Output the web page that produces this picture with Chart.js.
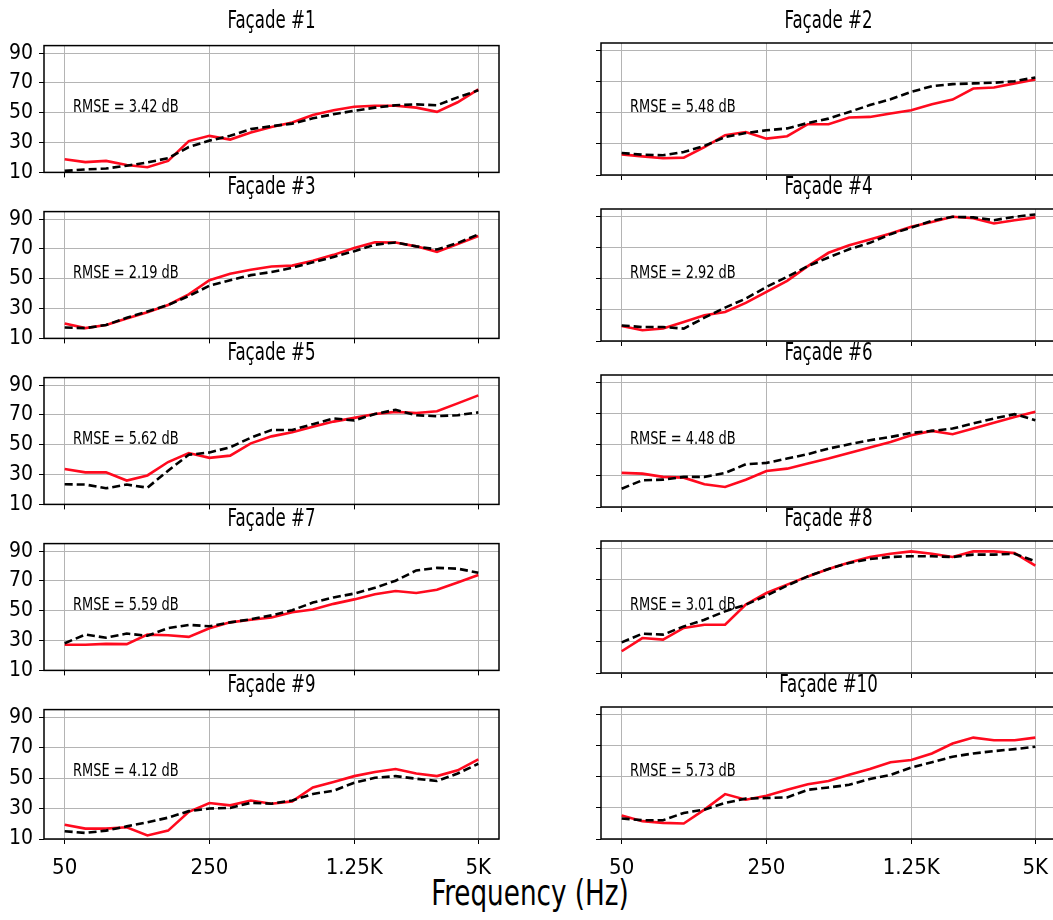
<!DOCTYPE html>
<html>
<head>
<meta charset="utf-8">
<script src="https://cdn.jsdelivr.net/npm/chart.js@4.4.0/dist/chart.umd.min.js"></script>
<style>
  body {
    margin: 0;
    background: #fff;
    width: 1053px;
    height: 920px;
    overflow: hidden;
    position: relative;
    font-family: 'DejaVu Sans Condensed', 'DejaVu Sans', sans-serif;
    color: #000;
  }
  canvas { position: absolute; }
  .ptitle { position: absolute; width: 455px; text-align: center; font-size: 24px; line-height: 28px; transform: scaleX(0.77); transform-origin: center; }
  .rmse { position: absolute; font-size: 18px; line-height: 20px; transform: scaleX(0.8); transform-origin: left center; white-space: nowrap; }
  #xlabel { position: absolute; left: 0; top: 872px; width: 1060px; text-align: center; font-size: 36px; line-height: 42px; transform: scaleX(0.81); transform-origin: center; }
</style>
</head>
<body>
<div id="xlabel">Frequency (Hz)</div>

<script>
// third-octave bands, 50 Hz .. 5 kHz
const freqLabels = ['50', '63', '80', '100', '125', '160', '200', '250', '315', '400', '500',
  '630', '800', '1K', '1.25K', '1.6K', '2K', '2.5K', '3.15K', '4K', '5K'];
const shownFreqs = [0, 7, 14, 20];
const yTicks = [10, 30, 50, 70, 90];

const titles = ['Façade #1', 'Façade #2', 'Façade #3', 'Façade #4', 'Façade #5',
  'Façade #6', 'Façade #7', 'Façade #8', 'Façade #9', 'Façade #10'];
const rmse = ['3.42', '5.48', '2.19', '2.92', '5.62', '4.48', '5.59', '3.01', '4.12', '5.73'];

// red solid curves
const measured1 = [18.8, 16.9, 17.7, 15.0, 13.5, 17.7, 31.0, 34.5, 32.0, 36.7, 40.5, 43.5, 48.5, 51.7, 54.0, 54.7, 54.7, 53.4, 50.6, 57.0, 65.7];
const measured2 = [23.3, 22.0, 20.8, 21.2, 28.0, 35.6, 37.7, 33.4, 35.0, 42.7, 42.7, 47.0, 47.4, 49.6, 51.7, 55.6, 58.6, 65.7, 66.3, 69.0, 71.5];
const measured3 = [20.0, 16.9, 19.0, 23.3, 27.6, 32.4, 39.5, 49.0, 53.4, 56.0, 58.2, 58.8, 62.0, 66.0, 70.6, 74.5, 74.3, 71.7, 68.0, 73.2, 78.6];
const measured4 = [19.7, 16.9, 18.0, 22.3, 26.6, 28.7, 34.5, 41.6, 48.7, 58.2, 66.8, 71.7, 75.4, 79.2, 83.5, 86.7, 90.0, 89.0, 85.7, 87.8, 89.6];
const measured5 = [33.7, 31.5, 31.5, 26.0, 29.4, 38.4, 44.4, 41.2, 42.7, 50.9, 55.6, 58.4, 62.0, 65.5, 68.0, 70.6, 72.0, 71.3, 72.4, 77.7, 83.1];
const measured6 = [32.0, 31.5, 29.4, 28.9, 24.6, 22.9, 27.6, 33.2, 34.7, 38.0, 41.2, 44.8, 48.3, 51.9, 56.2, 59.0, 56.9, 60.5, 64.2, 68.0, 71.3];
const measured7 = [27.2, 27.2, 27.8, 27.6, 34.0, 33.6, 32.5, 38.3, 42.2, 43.9, 45.4, 49.0, 50.8, 54.6, 57.6, 61.0, 63.2, 61.9, 64.0, 68.9, 73.9];
const measured8 = [24.0, 32.5, 31.5, 39.0, 41.1, 41.1, 54.0, 61.5, 66.9, 72.2, 77.0, 81.2, 84.7, 86.8, 88.3, 86.8, 84.7, 88.3, 88.3, 87.2, 79.1];
const measured9 = [19.4, 16.8, 16.8, 17.7, 12.3, 15.5, 27.9, 33.6, 32.1, 35.3, 33.2, 34.7, 43.8, 47.4, 51.3, 54.0, 56.0, 53.0, 51.3, 55.1, 62.3];
const measured10 = [25.1, 21.5, 20.4, 20.0, 28.9, 38.9, 35.3, 37.8, 41.7, 45.3, 47.4, 51.3, 55.1, 59.4, 60.9, 65.1, 71.5, 75.3, 73.6, 73.6, 75.3];

// black dashed curves
const predicted1 = [11.0, 12.0, 12.6, 14.5, 16.7, 19.5, 27.0, 31.3, 34.5, 39.0, 41.0, 42.7, 46.3, 49.0, 51.3, 53.4, 55.0, 55.6, 55.0, 60.3, 65.0];
const predicted2 = [24.2, 23.1, 22.7, 24.8, 28.7, 34.5, 37.0, 38.8, 40.0, 43.5, 46.3, 50.6, 55.0, 58.8, 63.5, 67.2, 68.5, 69.0, 69.4, 70.4, 72.8];
const predicted3 = [17.3, 16.9, 19.0, 23.8, 28.0, 32.4, 38.4, 45.3, 49.0, 52.4, 54.5, 57.3, 61.0, 64.6, 68.5, 72.8, 74.3, 71.7, 69.6, 73.9, 79.7];
const predicted4 = [20.0, 19.0, 19.0, 18.0, 25.0, 31.5, 37.3, 44.8, 51.3, 58.2, 63.8, 69.1, 73.2, 78.8, 83.0, 87.4, 90.0, 89.6, 87.8, 90.0, 91.5];
const predicted5 = [23.5, 23.3, 20.8, 23.3, 21.2, 32.6, 43.3, 44.8, 48.3, 54.7, 59.9, 59.9, 63.8, 67.6, 66.3, 70.6, 73.4, 69.8, 69.1, 69.8, 71.7];
const predicted6 = [21.8, 27.2, 27.6, 29.4, 29.4, 31.9, 37.5, 38.4, 41.2, 44.0, 47.6, 50.4, 53.0, 55.1, 57.7, 59.0, 60.5, 63.8, 67.0, 69.8, 65.9];
const predicted7 = [28.2, 34.0, 31.9, 34.7, 33.2, 38.3, 40.5, 39.6, 42.2, 44.3, 46.9, 50.3, 55.5, 58.9, 61.5, 65.4, 70.1, 77.0, 78.7, 78.2, 75.5];
const predicted8 = [29.7, 35.3, 34.7, 40.0, 44.3, 49.7, 54.0, 59.8, 66.3, 72.2, 77.0, 80.9, 83.4, 84.7, 85.2, 85.2, 84.7, 86.2, 86.2, 86.8, 81.9];
const predicted9 = [15.1, 14.0, 15.5, 18.3, 21.0, 24.0, 28.3, 30.0, 30.4, 33.8, 33.2, 35.3, 39.6, 41.7, 47.0, 50.2, 51.3, 49.6, 48.1, 53.0, 59.4];
const predicted10 = [23.2, 22.1, 22.1, 26.8, 28.9, 33.2, 36.0, 36.4, 36.8, 41.7, 43.2, 44.9, 48.7, 51.3, 56.0, 59.4, 63.0, 65.1, 66.6, 67.9, 69.4];

const measured = [measured1, measured2, measured3, measured4, measured5,
  measured6, measured7, measured8, measured9, measured10];
const predicted = [predicted1, predicted2, predicted3, predicted4, predicted5,
  predicted6, predicted7, predicted8, predicted9, predicted10];

const fontStack = "'DejaVu Sans Condensed', 'DejaVu Sans', sans-serif";
Chart.defaults.font.family = fontStack;
Chart.defaults.color = '#000';

// layout of the 5x2 grid (plot frame positions)
const rowTops = [43, 209, 375, 541, 707];
const colLefts = [44, 601];
const plotW = 455;
const plotH = 132;
const yAxisW = 44;
const padTop = 16;
const padRight = 21;

// draws the full box around the plot area
const framePlugin = {
  id: 'frame',
  afterDraw(chart) {
    const a = chart.chartArea;
    const ctx = chart.ctx;
    ctx.save();
    ctx.strokeStyle = '#000';
    ctx.lineWidth = 1.5;
    ctx.strokeRect(a.left, a.top, a.right - a.left, a.bottom - a.top);
    ctx.restore();
  }
};

function toPoints(values) {
  return values.map((v, i) => ({ x: i, y: v }));
}

function makePanel(k) {
  const row = Math.floor(k / 2);
  const col = k % 2;
  const bottomRow = row === 4;
  const xAxisH = bottomRow ? 50 : 16;

  const canvas = document.createElement('canvas');
  canvas.width = yAxisW + plotW + padRight;
  canvas.height = padTop + plotH + xAxisH;
  canvas.style.left = (colLefts[col] - yAxisW) + 'px';
  canvas.style.top = (rowTops[row] - padTop) + 'px';
  document.body.appendChild(canvas);

  const title = document.createElement('div');
  title.className = 'ptitle';
  title.textContent = titles[k];
  title.style.left = colLefts[col] + 'px';
  title.style.top = (rowTops[row] - 37) + 'px';
  document.body.appendChild(title);

  const note = document.createElement('div');
  note.className = 'rmse';
  note.textContent = `RMSE = ${rmse[k]} dB`;
  note.style.left = (colLefts[col] + 29) + 'px';
  note.style.top = (rowTops[row] + 53) + 'px';
  document.body.appendChild(note);

  new Chart(canvas.getContext('2d'), {
    type: 'line',
    data: {
      datasets: [{
        label: 'measured',
        data: toPoints(measured[k]),
        borderColor: '#ff0a1e',
        borderWidth: 2.6,
        pointRadius: 0,
        tension: 0,
        order: 1
      }, {
        label: 'predicted',
        data: toPoints(predicted[k]),
        borderColor: '#000',
        borderWidth: 2.6,
        borderDash: [8, 4],
        pointRadius: 0,
        tension: 0,
        order: 0
      }]
    },
    options: {
      responsive: false,
      animation: false,
      events: [],
      layout: { padding: { top: padTop, right: padRight, left: 0, bottom: 0 } },
      plugins: { legend: { display: false }, tooltip: { enabled: false } },
      scales: {
        x: {
          type: 'linear',
          min: -1,
          max: 21,
          afterBuildTicks: scale => { scale.ticks = shownFreqs.map(v => ({ value: v })); },
          afterFit: scale => { scale.height = xAxisH; },
          grid: { color: '#b4b4b4', lineWidth: 1, tickLength: 5, tickColor: '#000' },
          border: { display: false },
          ticks: {
            display: bottomRow,
            autoSkip: false,
            maxRotation: 0,
            padding: 11,
            font: { size: 22 },
            callback: v => freqLabels[v]
          }
        },
        y: {
          min: 10,
          max: 95,
          afterBuildTicks: scale => { scale.ticks = yTicks.map(v => ({ value: v })); },
          afterFit: scale => { scale.width = yAxisW; },
          grid: { color: '#b4b4b4', lineWidth: 1, tickLength: 5, tickColor: '#000' },
          border: { display: false },
          ticks: {
            display: col === 0,
            padding: 6,
            font: { size: 21 }
          }
        }
      }
    },
    plugins: [framePlugin]
  });
}

for (let k = 0; k < 10; k++) {
  makePanel(k);
}
</script>
</body>
</html>
